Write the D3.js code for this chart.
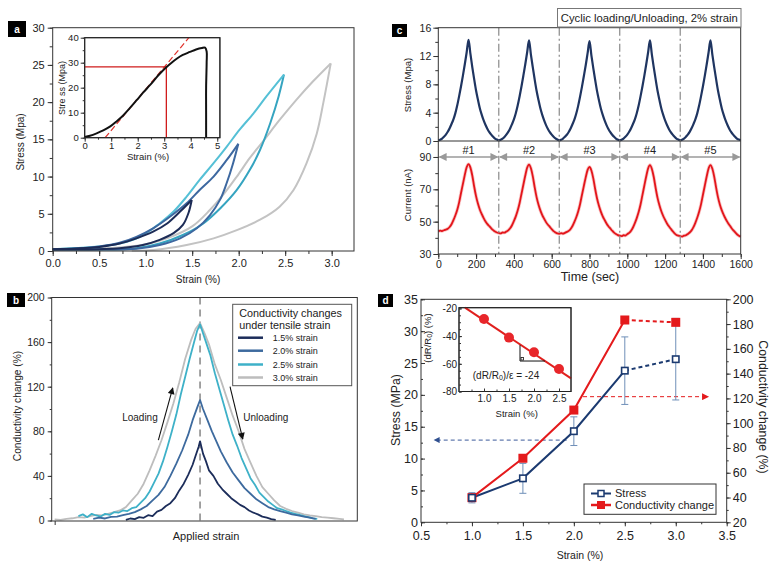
<!DOCTYPE html>
<html><head><meta charset="utf-8">
<script src="https://cdn.jsdelivr.net/npm/d3@7"></script>
<style>html,body{margin:0;padding:0;background:#fff;}svg{display:block;}</style>
</head><body>
<svg id="fig" width="773" height="568"></svg>
<script>
// ================= DATA =================
// Panel a: hysteresis loops (strain %, stress MPa); loading branch then unloading branch
const a15Strain = [0,0.25,0.5,0.72,0.9,1.08,1.23,1.37,1.495,1.46,1.40,1.30,1.15,0.97,0.72,0.5,0.25,0];
const a15Stress = [0.25,0.35,0.55,1.0,1.7,2.6,3.7,5.3,6.86,5.1,3.5,2.4,1.5,0.8,0.36,0.25,0.2,0.2];
const a15Peak = 8;
const a20Strain = [0,0.25,0.5,0.72,0.90,1.08,1.26,1.44,1.58,1.73,1.87,1.996,1.94,1.87,1.80,1.69,1.55,1.37,1.15,0.90,0.6,0.3,0];
const a20Stress = [0.25,0.35,0.6,1.1,1.9,3.05,4.6,6.4,8.2,10.0,12.2,14.4,11.8,9.1,6.9,4.8,3.05,1.7,0.8,0.3,0.2,0.2,0.2];
const a20Peak = 11;
const a25Strain = [0,0.25,0.5,0.72,0.94,1.15,1.30,1.44,1.58,1.73,1.87,2.01,2.16,2.30,2.487,2.43,2.34,2.23,2.12,1.98,1.80,1.62,1.40,1.15,0.90,0.6,0.3,0];
const a25Stress = [0.25,0.4,0.6,1.0,1.9,3.7,5.3,7.3,9.55,11.8,14.0,16.3,18.5,20.8,23.7,20.8,17.2,13.6,10.9,8.2,5.7,3.7,2.15,1.0,0.36,0.2,0.2,0.2];
const a25Peak = 14;
const a30Strain = [0,0.25,0.5,0.75,1.0,1.25,1.5,1.69,1.83,1.98,2.12,2.26,2.44,2.62,2.80,2.99,2.91,2.84,2.73,2.59,2.44,2.23,1.98,1.73,1.44,1.08,0.85];
const a30Stress = [0.2,0.25,0.3,0.5,0.9,1.8,3.3,5.5,7.5,10.0,12.5,14.7,17.6,20.3,22.8,25.2,19.9,15.8,11.8,8.2,5.96,4.2,2.8,1.7,0.8,0.13,0.05];
const a30Peak = 15;
// Panel a inset: tensile curve
const insetStrain = [0,0.2,0.45,0.7,0.95,1.2,1.46,1.7,1.96,2.2,2.46,2.7,2.84,3.09,3.3,3.47,3.7,3.97,4.2,4.42,4.54,4.60,4.60,4.58,4.58,4.58];
const insetStress = [0.3,0.8,1.75,2.9,4.4,6.5,9.0,11.8,15.0,18.0,21.0,24.0,25.7,28.3,30.2,31.6,33.1,34.3,35.3,35.9,36.0,34.5,30,20,10,0];
const tangentStrain = [0.77,3.93];
const tangentStress = [0,40];
const guideStrain = [0,3.08,3.08];
const guideStress = [28.3,28.3,0];
const aXTicks = [0,0.5,1.0,1.5,2.0,2.5,3.0];
const aYTicks = [0,5,10,15,20,25,30];
const aInXTicks = [0,1,2,3,4,5];
const aInYTicks = [0,10,20,30,40];

// Panel b: conductivity change vs applied strain (normalised strain axis, % change)
const b15X = [-0.50,-0.47,-0.44,-0.41,-0.38,-0.35,-0.32,-0.29,-0.26,-0.23,-0.20,-0.17,-0.14,-0.11,-0.08,-0.05,-0.03,-0.01,0,0.02,0.04,0.06,0.09,0.12,0.15,0.18,0.21,0.24,0.27,0.30,0.33,0.36,0.39,0.42,0.45,0.48,0.51];
const b15Y = [0.5,1.8,1.2,3.0,2.4,4.8,4.0,8.0,9.5,13,15.5,20,27,33,41,50,58,66,71,60,53,45,40,33,28,24,20,17,14,12,9,7,5.5,3.5,2.5,1.2,0.5];
const b20X = [-0.72,-0.68,-0.64,-0.60,-0.56,-0.52,-0.48,-0.44,-0.40,-0.36,-0.32,-0.28,-0.24,-0.20,-0.16,-0.12,-0.08,-0.05,-0.02,0,0.02,0.05,0.08,0.11,0.14,0.18,0.22,0.26,0.30,0.34,0.38,0.42,0.46,0.50,0.54,0.58,0.62,0.66,0.70,0.74,0.78];
const b20Y = [1.5,2.5,1.8,3.2,3.5,4.8,6,7.5,10,13,18,23,30,40,51,63,77,90,101,108,100,90,80,71,62,52,43,36,29,24,19,15.5,12,10,8.5,7,5.5,4.5,3.5,2.5,1.5];
const b25X = [-0.82,-0.79,-0.76,-0.73,-0.70,-0.67,-0.64,-0.61,-0.58,-0.55,-0.52,-0.49,-0.46,-0.43,-0.40,-0.37,-0.34,-0.31,-0.28,-0.25,-0.22,-0.19,-0.16,-0.13,-0.10,-0.07,-0.04,-0.02,0,0.02,0.04,0.07,0.10,0.13,0.16,0.19,0.22,0.25,0.28,0.31,0.34,0.37,0.40,0.43,0.46,0.49,0.52,0.55,0.58,0.61,0.64,0.67,0.70,0.73,0.76,0.79];
const b25Y = [4,5.5,3,6,4.5,3.5,6,5,7.5,7,9,8.5,11,12,16,20,26,34,42,53,66,80,95,113,129,145,160,170,176,168,160,148,132,118,104,90,77,67,56,47,38,32,25,21,17,14,11,10,8.5,7,6,5,4,3,2,1.5];
const b30X = [-0.98,-0.94,-0.90,-0.86,-0.82,-0.78,-0.74,-0.70,-0.66,-0.62,-0.58,-0.54,-0.50,-0.46,-0.42,-0.38,-0.34,-0.30,-0.26,-0.22,-0.18,-0.14,-0.10,-0.06,-0.03,0,0.03,0.06,0.10,0.14,0.18,0.22,0.26,0.30,0.34,0.38,0.42,0.46,0.50,0.54,0.58,0.62,0.66,0.70,0.74,0.78,0.82,0.86,0.90,0.94,0.97];
const b30Y = [1,0.5,1.5,2,3,2.5,4,5,4.5,6,7.5,9,12,18,24,33,45,58,72,88,105,124,145,162,172,177,168,158,140,126,110,94,80,64,52,40,30,24,18,13,10.5,8.5,7,5.5,4.5,4,3,2.5,2,1.5,1];
const bLegend = ["1.5% strain","2.0% strain","2.5% strain","3.0% strain"];
const bYTicks = [0,40,80,120,160,200];

// Panel c: cyclic loading, 5 cycles of 320 s (offsets within a cycle, s)
const cOffsets = [0,10,20,30,40,50,60,70,80,90,100,110,120,130,140,150,160,170,180,190,200,210,220,230,240,250,260,270,280,290,300,310];
const cCycleStarts = [0,320,640,960,1280];
const cStress = [
 [0.10,0.18,0.35,0.60,0.90,1.30,1.80,2.40,3.05,3.90,5.00,6.30,7.70,9.20,10.8,12.5,14.3,12.3,10.4,8.70,7.10,5.80,4.60,3.70,2.90,2.25,1.70,1.25,0.90,0.60,0.35,0.20],
 [0.10,0.17,0.33,0.58,0.90,1.28,1.78,2.38,3.05,3.92,5.00,6.28,7.70,9.22,10.8,12.5,14.2,12.2,10.4,8.68,7.10,5.80,4.62,3.70,2.92,2.25,1.70,1.25,0.90,0.60,0.36,0.20],
 [0.10,0.17,0.34,0.59,0.88,1.27,1.77,2.37,3.02,3.88,4.96,6.24,7.64,9.15,10.7,12.4,14.1,12.1,10.3,8.62,7.05,5.76,4.58,3.68,2.90,2.24,1.69,1.24,0.89,0.59,0.35,0.19],
 [0.10,0.18,0.35,0.60,0.90,1.30,1.80,2.40,3.05,3.91,5.00,6.30,7.70,9.20,10.8,12.5,14.2,12.2,10.4,8.70,7.10,5.80,4.60,3.70,2.90,2.25,1.70,1.25,0.90,0.60,0.35,0.20],
 [0.10,0.17,0.34,0.60,0.90,1.29,1.79,2.39,3.05,3.90,5.00,6.30,7.70,9.20,10.8,12.5,14.2,12.2,10.4,8.70,7.10,5.80,4.60,3.70,2.90,2.25,1.70,1.25,0.90,0.60,0.35,0.20]
];
const cCurrent = [
 [44.0,44.4,44.2,44.7,45.1,45.6,46.7,48.4,50.9,53.8,57.2,61.8,67.6,73.2,78.8,83.6,85.6,83.4,78.4,71.6,65.6,61.0,57.4,54.6,52.2,50.1,48.5,47.2,45.9,44.8,43.9,43.3],
 [43.0,42.8,43.3,43.2,43.9,44.6,45.9,47.8,50.4,53.3,56.9,61.4,67.1,72.8,78.4,83.3,85.3,83.0,78.0,71.2,65.2,60.6,57.0,54.1,51.8,49.7,48.1,46.8,45.4,44.1,43.3,42.7],
 [42.5,42.9,42.6,43.1,43.7,44.3,45.5,47.3,49.8,52.7,56.3,60.8,66.5,72.0,77.4,82.0,83.8,81.6,76.8,70.2,64.3,59.8,56.2,53.3,51.0,48.9,47.2,45.8,44.4,43.2,42.3,41.7],
 [41.3,41.1,41.6,41.4,42.3,43.1,44.4,46.4,49.1,52.2,55.9,60.6,66.4,72.2,77.9,82.9,85.0,82.6,77.6,70.8,64.7,60.1,56.4,53.5,51.1,48.9,47.1,45.6,44.1,42.8,41.8,41.3],
 [41.1,40.8,41.3,41.6,42.4,43.3,44.6,46.6,49.3,52.4,56.1,60.7,66.5,72.2,77.9,82.9,85.0,82.7,77.7,71.0,65.0,60.5,57.0,54.2,51.8,49.7,47.9,46.3,44.8,43.5,42.2,41.3]
];
const cEndTime = 1600, cEndStress = 0.12, cEndCurrent = 40.8;
const cDividers = [320,640,960,1280];
const cCycleLabels = ["#1","#2","#3","#4","#5"];
const cXTicks = [0,200,400,600,800,1000,1200,1400,1600];
const cStressTicks = [0,4,8,12,16];
const cCurrentTicks = [30,50,70,90];

// Panel d: stress & conductivity change vs strain
const dStrain = [1.0,1.5,2.0,2.5,3.0];
const dStress = [3.85,6.9,14.3,23.8,25.6];
const dStressErr = [0.8,2.35,2.25,5.3,6.4];
const dCond = [39.9,71.7,110.6,183.3,181.4];
const dInStrain = [1.0,1.5,2.0,2.5];
const dInDR = [-27.6,-41.1,-51.7,-63.7];
const dFitStrain = [0.62,2.74];
const dFitDR = [-19.5,-70.5];
const dTriStrain = [1.72,1.72,2.22];
const dTriDR = [-46.5,-58,-58];
const dXTicks = [0.5,1.0,1.5,2.0,2.5,3.0,3.5];
const dLTicks = [0,5,10,15,20,25,30,35];
const dRTicks = [20,40,60,80,100,120,140,160,180,200];
const dInXTicks = [1.0,1.5,2.0,2.5];
const dInYTicks = [-20,-40,-60,-80];

// ================= DRAW =================
const F = '"Liberation Sans", Arial, Helvetica, sans-serif';
const svg = d3.select('#fig').attr('font-family', F);
svg.append('rect').attr('width',773).attr('height',568).attr('fill','#fff');
const defs = svg.append('defs');
function marker(id, color, w, h){
  defs.append('marker').attr('id',id).attr('viewBox','0 0 10 10').attr('refX',9).attr('refY',5)
    .attr('markerUnits','userSpaceOnUse').attr('markerWidth',w).attr('markerHeight',h)
    .attr('orient','auto-start-reverse')
    .append('path').attr('d','M0,0 L10,5 L0,10 z').attr('fill',color);
}
marker('mBlack','#111',8,7); marker('mGrey','#999',9,8); marker('mRed','#e41a1c',8,7); marker('mBlue','#2f4f8f',7,6);

function addAxis(parent, orient, scale, tx, ty, majors, minors, o){
  const mk = {left:d3.axisLeft, right:d3.axisRight, bottom:d3.axisBottom, top:d3.axisTop}[orient];
  const g = parent.append('g').attr('transform',`translate(${tx},${ty})`);
  if (minors && minors.length){
    g.append('g').call(mk(scale).tickValues(minors).tickSize(o.mlen).tickFormat(''))
      .call(s=>s.select('.domain').remove());
  }
  const gm = g.append('g').call(mk(scale).tickValues(majors).tickSize(o.len).tickPadding(o.pad).tickFormat(o.fmt||(d=>d)));
  gm.select('.domain').remove();
  g.selectAll('text').attr('font-size',o.fs).attr('font-family',F).attr('fill',o.tc||'#222');
  g.selectAll('line').attr('stroke',o.lc||'#333').attr('stroke-width',o.lw||1);
  return g;
}
function T(parent,x,y,s,fs,o={}){
  const t = parent.append('text').attr('x',x).attr('y',y).attr('font-size',fs)
    .attr('fill',o.fill||'#222').attr('text-anchor',o.anchor||'middle')
    .attr('dominant-baseline','central').text(s);
  if (o.rot) t.attr('transform',`rotate(${o.rot},${x},${y})`);
  if (o.weight) t.attr('font-weight',o.weight);
  return t;
}
function frame(parent,x0,y0,x1,y1,stroke,fill){
  return parent.append('rect').attr('x',x0).attr('y',y0).attr('width',x1-x0).attr('height',y1-y0)
    .attr('fill',fill||'none').attr('stroke',stroke||'#333').attr('stroke-width',1);
}
function panelLabel(x,y,w,h,s){
  svg.append('rect').attr('x',x).attr('y',y).attr('width',w).attr('height',h).attr('fill','#000');
  T(svg,x+w/2,y+h/2,s,10,{fill:'#fff',weight:'bold'});
}
function range(a,b,s){const r=[];for(let v=a;v<=b+1e-9;v+=s)r.push(+v.toFixed(4));return r;}
const zip = (xs,ys)=>xs.map((x,i)=>[x,ys[i]]);

// ---------- Panel a ----------
const ga = svg.append('g');
const ax = d3.scaleLinear().domain([0,3.24]).range([52.7,354]);
const ay = d3.scaleLinear().domain([0,30]).range([251,27.7]);
const la = d3.line().x(d=>ax(d[0])).y(d=>ay(d[1])).curve(d3.curveCatmullRom.alpha(0.5));
[[a30Strain,a30Stress,a30Peak,'#c3c3c3','#c3c3c3'],[a25Strain,a25Stress,a25Peak,'#55c0d6','#35a4c0'],
 [a20Strain,a20Stress,a20Peak,'#3d68a0','#3d68a0'],[a15Strain,a15Stress,a15Peak,'#1d2c57','#1d2c57']]
 .forEach(([xs,ys,pk,c1,c2])=>{
   const pts = zip(xs,ys);
   ga.append('path').attr('d',la(pts.slice(pk))).attr('fill','none').attr('stroke',c2).attr('stroke-width',2).attr('stroke-linejoin','round');
   ga.append('path').attr('d',la(pts.slice(0,pk+1))).attr('fill','none').attr('stroke',c1).attr('stroke-width',2).attr('stroke-linejoin','round');
 });
frame(ga,52.7,27.7,354,251);
addAxis(ga,'left',ay,52.7,0,aYTicks,range(0,30,2.5),{len:5,mlen:3,pad:3,fs:11});
addAxis(ga,'bottom',ax,0,251,aXTicks,range(0,3.24,0.25),{len:5,mlen:3,pad:3,fs:11,fmt:d3.format('.1f')});
T(ga,20,142,'Stress (Mpa)',10,{rot:-90});
T(ga,198,279,'Strain (%)',10);
// inset
const aix = d3.scaleLinear().domain([0,5.1]).range([84.7,219.9]);
const aiy = d3.scaleLinear().domain([0,40]).range([137.7,37.7]);
frame(ga,84.7,37.7,219.9,137.7,'#222','#fff');
const lai = d3.line().x(d=>aix(d[0])).y(d=>aiy(d[1]));
ga.append('path').attr('d',lai(zip(tangentStrain,tangentStress))).attr('fill','none').attr('stroke','#e0302a').attr('stroke-width',1.2).attr('stroke-dasharray','6,3');
ga.append('path').attr('d',lai(zip(guideStrain,guideStress))).attr('fill','none').attr('stroke','#d01c1c').attr('stroke-width',1.3);
ga.append('path').attr('d',d3.line().x(d=>aix(d[0])).y(d=>aiy(d[1])).curve(d3.curveCatmullRom.alpha(0.5))(zip(insetStrain,insetStress)))
  .attr('fill','none').attr('stroke','#111').attr('stroke-width',2);
frame(ga,84.7,37.7,219.9,137.7,'#222');
addAxis(ga,'left',aiy,84.7,0,aInYTicks,range(0,40,5),{len:4,mlen:2,pad:2,fs:9.5});
addAxis(ga,'bottom',aix,0,137.7,aInXTicks,range(0,5,0.5),{len:4,mlen:2,pad:1,fs:9.5});
T(ga,62,88,'Stre ss (Mpa)',9,{rot:-90});
T(ga,148,156,'Strain (%)',9.5);
panelLabel(8,21,18,16,'a');

// ---------- Panel b ----------
const gb = svg.append('g');
const bx = d3.scaleLinear().domain([-1,1.06]).range([51.7,357.3]);
const by = d3.scaleLinear().domain([0,200]).range([520.5,297.5]);
const lb = d3.line().x(d=>bx(d[0])).y(d=>by(d[1]));
gb.append('line').attr('x1',bx(0)).attr('x2',bx(0)).attr('y1',297.5).attr('y2',520.5)
  .attr('stroke','#9a9a9a').attr('stroke-width',1.8).attr('stroke-dasharray','7,5');
const bCols = ['#1c2d5a','#3d6a9e','#3eb1c8','#bdbdbd'];
[[b30X,b30Y,bCols[3]],[b25X,b25Y,bCols[2]],[b20X,b20Y,bCols[1]],[b15X,b15Y,bCols[0]]].forEach(([xs,ys,c])=>{
  gb.append('path').attr('d',lb(zip(xs,ys))).attr('fill','none').attr('stroke',c).attr('stroke-width',1.8).attr('stroke-linejoin','round');
});
frame(gb,51.7,297.5,357.3,521);
addAxis(gb,'left',by,51.7,0,bYTicks,range(0,200,20),{len:4,mlen:2,pad:3,fs:10.5});
addAxis(gb,'bottom',bx,0,521,[-0.98],[],{len:4,mlen:2,pad:2,fs:10,fmt:()=>''});
T(gb,17,406,'Conductivity change (%)',10.2,{rot:-90});
T(gb,206,536,'Applied strain',11);
gb.append('line').attr('x1',bx(-0.281)).attr('y1',by(72)).attr('x2',bx(-0.184)).attr('y2',by(119))
  .attr('stroke','#111').attr('stroke-width',1.1).attr('marker-end','url(#mBlack)');
gb.append('line').attr('x1',bx(0.202)).attr('y1',by(120)).attr('x2',bx(0.288)).attr('y2',by(73))
  .attr('stroke','#111').attr('stroke-width',1.1).attr('marker-end','url(#mBlack)');
T(gb,bx(-0.405),by(92.3),'Loading',10);
T(gb,bx(0.443),by(92.3),'Unloading',10);
frame(gb,232.7,304.3,351.7,385.7,'#555','#fff');
T(gb,239.3,312.5,'Conductivity changes',10.8,{anchor:'start'});
T(gb,239.3,324.5,'under tensile strain',10.8,{anchor:'start'});
bLegend.forEach((s,i)=>{
  const yy = [337.7,350.7,364.5,377.5][i];
  gb.append('line').attr('x1',238).attr('x2',263).attr('y1',yy).attr('y2',yy).attr('stroke',bCols[i]).attr('stroke-width',2.5);
  T(gb,272.7,yy,s,9,{anchor:'start'});
});
panelLabel(7,293,18,14,'b');

// ---------- Panel c ----------
const gc = svg.append('g');
const cx = d3.scaleLinear().domain([0,1600]).range([438.3,740.7]);
const cyS = d3.scaleLinear().domain([0,16]).range([141,27.7]);
const cyC = d3.scaleLinear().domain([30,100]).range([254,140.8]);
const sPts = [], iPts = [];
cCycleStarts.forEach((t0,k)=>{
  cOffsets.forEach((o,j)=>{ sPts.push([t0+o,cStress[k][j]]); iPts.push([t0+o,cCurrent[k][j]]); });
});
sPts.push([cEndTime,cEndStress]); iPts.push([cEndTime,cEndCurrent]);
gc.append('path').attr('d',d3.line().x(d=>cx(d[0])).y(d=>cyS(d[1])).curve(d3.curveMonotoneX)(sPts))
  .attr('fill','none').attr('stroke','#1f3561').attr('stroke-width',2.2);
const lc = d3.line().x(d=>cx(d[0])).y(d=>cyC(d[1])).curve(d3.curveMonotoneX);
gc.append('path').attr('d',lc(iPts)).attr('fill','none').attr('stroke','#f9c6c6').attr('stroke-width',3.4);
gc.append('path').attr('d',lc(iPts)).attr('fill','none').attr('stroke','#e3151b').attr('stroke-width',1.8);
cDividers.forEach(t=>{
  gc.append('line').attr('x1',cx(t)).attr('x2',cx(t)).attr('y1',27.7).attr('y2',254)
    .attr('stroke','#8a8a8a').attr('stroke-width',1.2).attr('stroke-dasharray','8,3,2,3');
});
const arrStarts = [0].concat(cDividers), arrEnds = cDividers.concat([1600]);
arrStarts.forEach((t0,i)=>{
  const t1 = arrEnds[i];
  gc.append('line').attr('x1',cx(t0+6)).attr('x2',cx(t1-6)).attr('y1',cyC(90)).attr('y2',cyC(90))
    .attr('stroke','#9a9a9a').attr('stroke-width',1.6)
    .attr('marker-start','url(#mGrey)').attr('marker-end','url(#mGrey)');
  T(gc,cx((t0+t1)/2),cyC(90)-7,cCycleLabels[i],11);
});
frame(gc,438.3,27.7,740.7,254);
gc.append('line').attr('x1',438.3).attr('x2',740.7).attr('y1',141).attr('y2',141).attr('stroke','#333');
addAxis(gc,'left',cyS,438.3,0,cStressTicks,range(0,16,2),{len:5,mlen:3,pad:2,fs:10.5});
addAxis(gc,'left',cyC,438.3,0,cCurrentTicks,range(30,90,10),{len:5,mlen:3,pad:2,fs:10.5});
addAxis(gc,'bottom',cx,0,254,cXTicks,range(0,1600,100),{len:5,mlen:3,pad:2,fs:10.5});
T(gc,407,85,'Stress (Mpa)',9.5,{rot:-90});
T(gc,407,195,'Current (nA)',9.5,{rot:-90});
T(gc,590,277,'Time (sec)',12.5);
frame(gc,557.5,8.5,741,27,'#777','#fff');
T(gc,649.3,18,'Cyclic loading/Unloading, 2% strain',11.3);
panelLabel(392,24,15,13,'c');

// ---------- Panel d ----------
const gd = svg.append('g');
const dx = d3.scaleLinear().domain([0.5,3.5]).range([421,726.7]);
const dyL = d3.scaleLinear().domain([0,35]).range([522.3,299.3]);
const dyR = d3.scaleLinear().domain([20,200]).range([522.3,299.3]);
const blueD = '#1b3a70', redD = '#e41a1c';
gd.append('line').attr('x1',dx(1.93)).attr('x2',dx(0.63)).attr('y1',dyL(12.9)).attr('y2',dyL(12.9))
  .attr('stroke','#3b5a9a').attr('stroke-width',1).attr('stroke-dasharray','4,3').attr('marker-end','url(#mBlue)');
gd.append('line').attr('x1',dx(2.09)).attr('x2',dx(3.32)).attr('y1',dyR(121.4)).attr('y2',dyR(121.4))
  .attr('stroke',redD).attr('stroke-width',1).attr('stroke-dasharray','4,3').attr('marker-end','url(#mRed)');
dStrain.forEach((s,i)=>{
  const x = dx(s), y0 = dyL(dStress[i]-dStressErr[i]), y1 = dyL(dStress[i]+dStressErr[i]);
  gd.append('line').attr('x1',x).attr('x2',x).attr('y1',y0).attr('y2',y1).attr('stroke','#6f8fb8').attr('stroke-width',1);
  [y0,y1].forEach(y=>gd.append('line').attr('x1',x-3.5).attr('x2',x+3.5).attr('y1',y).attr('y2',y).attr('stroke','#6f8fb8').attr('stroke-width',1));
});
const ldL = d3.line().x(d=>dx(d[0])).y(d=>dyL(d[1]));
const ldR = d3.line().x(d=>dx(d[0])).y(d=>dyR(d[1]));
const sP = zip(dStrain,dStress), cP = zip(dStrain,dCond);
gd.append('path').attr('d',ldL(sP.slice(0,4))).attr('fill','none').attr('stroke',blueD).attr('stroke-width',2);
gd.append('path').attr('d',ldL(sP.slice(3))).attr('fill','none').attr('stroke',blueD).attr('stroke-width',2).attr('stroke-dasharray','4,3');
gd.append('path').attr('d',ldR(cP.slice(0,4))).attr('fill','none').attr('stroke',redD).attr('stroke-width',2);
gd.append('path').attr('d',ldR(cP.slice(3))).attr('fill','none').attr('stroke',redD).attr('stroke-width',2).attr('stroke-dasharray','4,3');
cP.forEach(p=>gd.append('rect').attr('x',dx(p[0])-4.5).attr('y',dyR(p[1])-4.5).attr('width',9).attr('height',9).attr('fill',redD));
sP.forEach(p=>gd.append('rect').attr('x',dx(p[0])-3.2).attr('y',dyL(p[1])-3.2).attr('width',6.4).attr('height',6.4).attr('fill','#fff').attr('stroke',blueD).attr('stroke-width',1.6));
frame(gd,421,299.3,726.7,522.3);
addAxis(gd,'left',dyL,421,0,dLTicks,range(0,35,2.5),{len:-4,mlen:-2,pad:3,fs:12.5});
addAxis(gd,'right',dyR,726.7,0,dRTicks,range(20,200,10),{len:4,mlen:2,pad:2,fs:12.5});
addAxis(gd,'bottom',dx,0,522.3,dXTicks,range(0.5,3.5,0.25),{len:4,mlen:2,pad:5,fs:12.5,fmt:d3.format('.1f')});
T(gd,396,410,'Stress (MPa)',12.3,{rot:-90});
T(gd,763,407,'Conductivity change (%)',12.3,{rot:90});
T(gd,580,555,'Strain (%)',10.5);
frame(gd,584,484,716,514.3,'#333','#fff');
gd.append('line').attr('x1',591).attr('x2',611).attr('y1',493.5).attr('y2',493.5).attr('stroke',blueD).attr('stroke-width',2);
gd.append('rect').attr('x',601-3).attr('y',493.5-3).attr('width',6).attr('height',6).attr('fill','#fff').attr('stroke',blueD).attr('stroke-width',1.5);
T(gd,615,492.5,'Stress',11,{anchor:'start'});
gd.append('line').attr('x1',591).attr('x2',611).attr('y1',505).attr('y2',505).attr('stroke',redD).attr('stroke-width',2.5);
gd.append('rect').attr('x',601-4).attr('y',505-4).attr('width',8).attr('height',8).attr('fill',redD);
T(gd,615,505,'Conductivity change',11,{anchor:'start'});
// inset
const dix = d3.scaleLinear().domain([0.5,2.74]).range([459,571]);
const diy = d3.scaleLinear().domain([-80,-19.5]).range([391.5,307.7]);
frame(gd,459,307.7,571,391.5,'#222','#fff');
const ldi = d3.line().x(d=>dix(d[0])).y(d=>diy(d[1]));
gd.append('path').attr('d',ldi(zip(dFitStrain,dFitDR))).attr('stroke','#e0201e').attr('stroke-width',2).attr('fill','none');
gd.append('path').attr('d',ldi(zip(dTriStrain,dTriDR))).attr('stroke','#111').attr('stroke-width',1).attr('fill','none');
gd.append('rect').attr('x',dix(dTriStrain[1])+1).attr('y',diy(dTriDR[1])-3.5).attr('width',2.5).attr('height',2.5).attr('fill','none').attr('stroke','#111').attr('stroke-width',0.8);
dInStrain.forEach((s,i)=>gd.append('circle').attr('cx',dix(s)).attr('cy',diy(dInDR[i])).attr('r',5).attr('fill','#e8262a'));
frame(gd,459,307.7,571,391.5,'#222');
addAxis(gd,'left',diy,459,0,dInYTicks,range(-80,-20,5),{len:-3,mlen:-2,pad:2,fs:10});
addAxis(gd,'bottom',dix,0,391.5,dInXTicks,range(0.75,2.5,0.25),{len:-3,mlen:-2,pad:3,fs:10,fmt:d3.format('.1f')});
const tl = gd.append('text').attr('x',427).attr('y',338).attr('font-size',9.5).attr('fill','#222')
  .attr('text-anchor','middle').attr('dominant-baseline','central').attr('transform','rotate(-90,427,338)');
tl.append('tspan').text('(dR/R');
tl.append('tspan').attr('font-size',7).attr('dy',2).text('0');
tl.append('tspan').attr('dy',-2).text(') (%)');
const tf = gd.append('text').attr('x',506).attr('y',375).attr('font-size',10).attr('fill','#222')
  .attr('text-anchor','middle').attr('dominant-baseline','central');
tf.append('tspan').text('(dR/R');
tf.append('tspan').attr('font-size',7).attr('dy',2).text('0');
tf.append('tspan').attr('dy',-2).text(')/ε = -24');
T(gd,516.7,413.3,'Strain (%)',9.5);
panelLabel(378,294,15,13,'d');
</script>
</body></html>
